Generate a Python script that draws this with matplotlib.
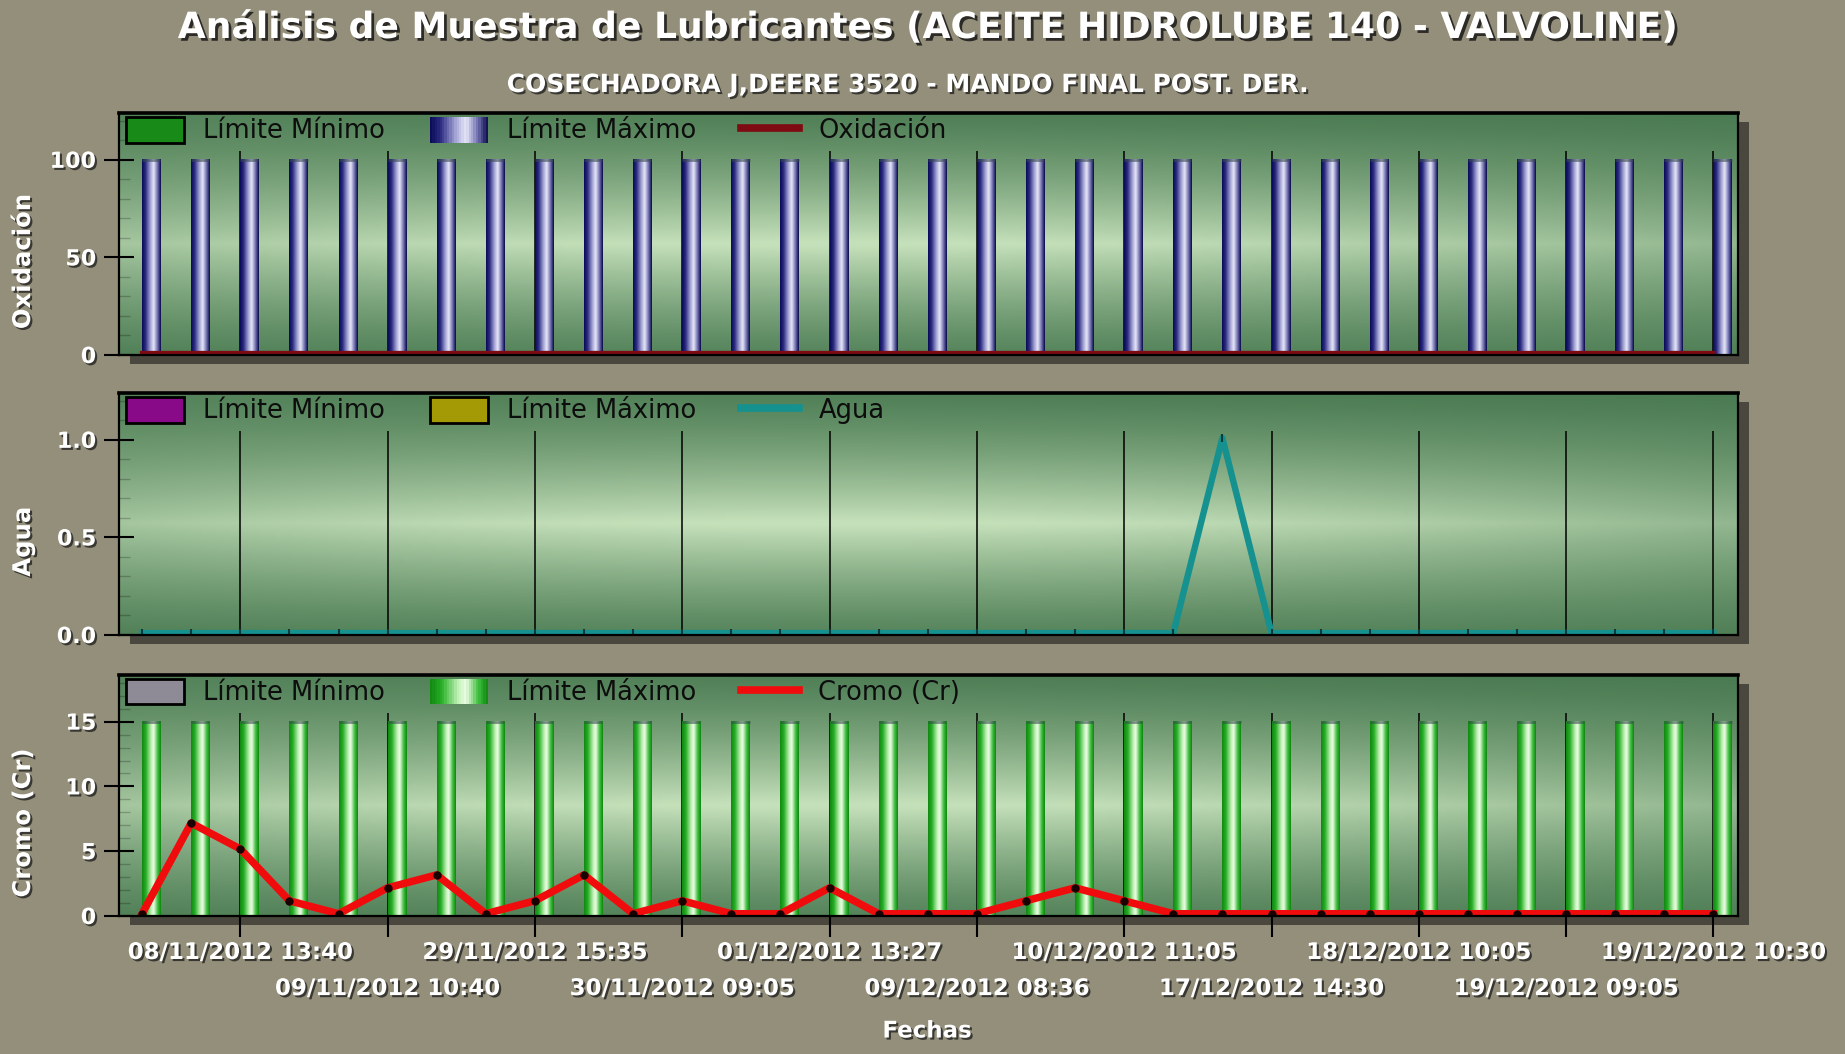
import numpy as np
import matplotlib
matplotlib.use("Agg")
import matplotlib.pyplot as plt
from matplotlib.patches import Rectangle
from matplotlib.colors import LinearSegmentedColormap
from matplotlib.legend_handler import HandlerBase
from matplotlib.lines import Line2D
from matplotlib.ticker import MultipleLocator, FormatStrFormatter, FixedLocator
from matplotlib.transforms import ScaledTranslation
import matplotlib.patheffects as pe

# ---------------- data ----------------
muestras = list(range(33))
etiquetas_fechas = ["08/11/2012 13:40", "09/11/2012 10:40", "29/11/2012 15:35",
                    "30/11/2012 09:05", "01/12/2012 13:27", "09/12/2012 08:36",
                    "10/12/2012 11:05", "17/12/2012 14:30", "18/12/2012 10:05",
                    "19/12/2012 09:05", "19/12/2012 10:30"]
posiciones_fechas = [2, 5, 8, 11, 14, 17, 20, 23, 26, 29, 32]

oxidacion = [0, 0, 0, 0, 0, 0, 0, 0, 0, 0, 0, 0, 0, 0, 0, 0, 0,
             0, 0, 0, 0, 0, 0, 0, 0, 0, 0, 0, 0, 0, 0, 0, 0]
oxid_min = [0, 0, 0, 0, 0, 0, 0, 0, 0, 0, 0, 0, 0, 0, 0, 0, 0,
            0, 0, 0, 0, 0, 0, 0, 0, 0, 0, 0, 0, 0, 0, 0, 0]
oxid_max = [100, 100, 100, 100, 100, 100, 100, 100, 100, 100, 100, 100, 100, 100, 100, 100, 100,
            100, 100, 100, 100, 100, 100, 100, 100, 100, 100, 100, 100, 100, 100, 100, 100]

agua = [0, 0, 0, 0, 0, 0, 0, 0, 0, 0, 0, 0, 0, 0, 0, 0, 0,
        0, 0, 0, 0, 0, 1.0, 0, 0, 0, 0, 0, 0, 0, 0, 0, 0]
agua_min = [0, 0, 0, 0, 0, 0, 0, 0, 0, 0, 0, 0, 0, 0, 0, 0, 0,
            0, 0, 0, 0, 0, 0, 0, 0, 0, 0, 0, 0, 0, 0, 0, 0]
agua_max = [0, 0, 0, 0, 0, 0, 0, 0, 0, 0, 0, 0, 0, 0, 0, 0, 0,
            0, 0, 0, 0, 0, 0, 0, 0, 0, 0, 0, 0, 0, 0, 0, 0]

cromo = [0, 7, 5, 1, 0, 2, 3, 0, 1, 3, 0, 1, 0, 0, 2, 0, 0,
         0, 1, 2, 1, 0, 0, 0, 0, 0, 0, 0, 0, 0, 0, 0, 0]
cromo_min = [0, 0, 0, 0, 0, 0, 0, 0, 0, 0, 0, 0, 0, 0, 0, 0, 0,
             0, 0, 0, 0, 0, 0, 0, 0, 0, 0, 0, 0, 0, 0, 0, 0]
cromo_max = [15, 15, 15, 15, 15, 15, 15, 15, 15, 15, 15, 15, 15, 15, 15, 15, 15,
             15, 15, 15, 15, 15, 15, 15, 15, 15, 15, 15, 15, 15, 15, 15, 15]

titulo = "Análisis de Muestra de Lubricantes (ACEITE HIDROLUBE 140 - VALVOLINE)"
subtitulo = "COSECHADORA J,DEERE 3520 - MANDO FINAL POST. DER."

# ---------------- style ----------------
plt.rcParams['font.family'] = ['DejaVu Sans']
W, H = 1845, 1054
fig = plt.figure(figsize=(W / 100, H / 100), dpi=100)
fig.patch.set_facecolor('#938f7a')

shadow_fx = [pe.SimplePatchShadow(offset=(1.5, -1.5), shadow_rgbFace='#1a1a1a', alpha=0.75), pe.Normal()]

navy_cmap = LinearSegmentedColormap.from_list('navy', [
    (0.0, '#0a0a58'), (0.18, '#2a2a80'), (0.45, '#a8a8d8'), (0.62, '#e6e6f8'),
    (0.82, '#7474b2'), (1.0, '#08084c')])
green_cmap = LinearSegmentedColormap.from_list('greenbar', [
    (0.0, '#118811'), (0.2, '#25ae25'), (0.48, '#bff0b4'), (0.62, '#ecfce4'),
    (0.84, '#3dbd3d'), (1.0, '#0e860e')])

BAR_W = 0.37


class GradHandler(HandlerBase):
    def __init__(self, cmap, n=24):
        super().__init__()
        self.cmap = cmap
        self.n = n

    def create_artists(self, legend, orig_handle, xdescent, ydescent, width, height, fontsize, trans):
        arts = []
        for i in range(self.n):
            r = Rectangle((-xdescent + i * width / self.n, -ydescent), width / self.n * 1.05, height,
                          facecolor=self.cmap((i + 0.5) / self.n), edgecolor='none', transform=trans)
            arts.append(r)
        return arts


def panel_background(ax):
    ny, nx = 240, 400
    yy = np.linspace(0, 1, ny)[:, None]
    xx = np.linspace(0, 1, nx)[None, :]
    v = np.clip(1 - np.abs(yy - 0.46) / 0.56, 0, 1) ** 1.4
    h = 0.62 + 0.38 * np.cos((xx - 0.45) * np.pi * 0.95)
    t = np.clip(v * h + 0.08 * (1 - xx) * yy, 0, 1)
    dark = np.array([0.29, 0.48, 0.32])
    light = np.array([0.77, 0.88, 0.73])
    img = dark + (light - dark) * t[..., None]
    ax.imshow(img, extent=[0, 1, 0, 1], transform=ax.transAxes, aspect='auto',
              origin='lower', zorder=0, interpolation='bilinear')


def add_shadow(rect):
    l, b, w, h = rect
    dx, dy = 11 / W, 9 / H
    fig.add_artist(Rectangle((l + dx, b - dy), w, h, transform=fig.transFigure,
                             facecolor='#4a483e', edgecolor='none', zorder=-5))


def make_panel(rect, serie, lmin, lmax, col_min, max_cmap, max_solid, line_color, line_lw,
               ylabel, nombre, ytick_step, minor_step, fmt, marker=None, mcolor=None, msize=0):
    add_shadow(rect)
    ax = fig.add_axes(rect)
    ax.set_facecolor('none')
    panel_background(ax)
    x = np.array(muestras)
    ymax_data = max(max(serie), max(lmax))
    top = 1.24 * ymax_data

    # vertical guide lines at the labelled samples
    ax.vlines(posiciones_fechas, 0, 1.045 * ymax_data, color='black', lw=1.1, zorder=1.5)

    ax.bar(x - BAR_W, lmin, width=BAR_W, align='edge', color=col_min, zorder=2)
    bmax = ax.bar(x, lmax, width=BAR_W, align='edge', color=max_solid if max_solid else 'none', zorder=2)
    if max_cmap is not None:
        grad = np.linspace(0, 1, 64).reshape(1, -1)
        for b in bmax:
            hgt = b.get_height()
            if hgt <= 0:
                continue
            x0, w = b.get_x(), b.get_width()
            ax.imshow(grad, cmap=max_cmap, extent=[x0, x0 + w, 0, hgt], aspect='auto',
                      zorder=2.1, interpolation='bilinear')
            ax.plot([x0, x0 + w], [hgt, hgt], color='#3a4a50', lw=2.0, alpha=0.6, zorder=2.2,
                    solid_capstyle='butt')

    # series line sits mostly above the zero line (small upward shift)
    lift = ax.transData + ScaledTranslation(0, line_lw * 0.3 / 72, fig.dpi_scale_trans)
    if marker:
        ax.plot(x, serie, color=line_color, lw=line_lw, zorder=3, marker=marker, transform=lift,
                markersize=msize, mfc=mcolor, mec=mcolor, mew=1.5, solid_joinstyle='round')
    else:
        ax.plot(x, serie, color=line_color, lw=line_lw, zorder=3, transform=lift)

    ax.set_xlim(-0.47, 32.5)
    ax.set_ylim(0, top)

    for s in ax.spines.values():
        s.set_color('black')
        s.set_linewidth(1.6)
        s.set_zorder(4)
    ax.spines['top'].set_linewidth(2.6)

    ax.yaxis.set_major_locator(MultipleLocator(ytick_step))
    ax.yaxis.set_minor_locator(MultipleLocator(minor_step))
    ax.yaxis.set_major_formatter(FormatStrFormatter(fmt))
    ax.tick_params(axis='y', which='major', direction='inout', length=21.6, width=1.5,
                   color='black', labelcolor='white', labelsize=16, pad=5.5)
    ax.tick_params(axis='y', which='minor', direction='in', length=8, width=1.0,
                   color=(0, 0, 0, 0.22))
    for t in ax.get_yticklabels():
        t.set_fontweight('bold')
        t.set_path_effects(shadow_fx)

    ax.set_ylabel(ylabel, color='white', fontsize=17.5, fontweight='bold')
    ax.yaxis.label.set_va('center')
    ax.yaxis.set_label_coords(-0.0593, 0.385)
    ax.yaxis.label.set_path_effects(shadow_fx)

    # legend
    h_min = Rectangle((0, 0), 1, 1, facecolor=col_min, edgecolor='black', lw=2)
    if max_cmap is not None:
        h_max = Rectangle((0, 0), 1, 1)
        hmap = {h_max: GradHandler(max_cmap)}
    else:
        h_max = Rectangle((0, 0), 1, 1, facecolor=max_solid, edgecolor='black', lw=2)
        hmap = {}
    h_line = Line2D([0], [0], color=line_color, lw=5.5)
    leg = ax.legend([h_min, h_max, h_line], ['Límite Mínimo', 'Límite Máximo', nombre],
                    handler_map=hmap, loc='upper left', bbox_to_anchor=(7 / 1619, 1 - 4 / 242),
                    ncol=3, frameon=False, borderpad=0, borderaxespad=0, fontsize=18.5,
                    handlelength=2.26, handleheight=1.15, handletextpad=0.74,
                    columnspacing=1.75, labelcolor='#0d0d0d')
    leg.set_zorder(5)
    return ax


Lx = 119 / W
Wx = (1738 - 119) / W

ax1 = make_panel((Lx, (H - 355) / H, Wx, 242 / H), oxidacion, oxid_min, oxid_max,
                 '#178a17', navy_cmap, None, '#7e0a12', 3.8, 'Oxidación', 'Oxidación',
                 50, 10, '%d')
ax2 = make_panel((Lx, (H - 635) / H, Wx, 242 / H), agua, agua_min, agua_max,
                 '#880a88', None, '#a39a05', '#15918f', 4.6, 'Agua', 'Agua',
                 0.5, 0.1, '%.1f', marker='|', mcolor='#0b3a3a', msize=6)
ax3 = make_panel((Lx, (H - 916) / H, Wx, 241 / H), cromo, cromo_min, cromo_max,
                 '#8f8b96', green_cmap, None, '#f00c0c', 5.4, 'Cromo (Cr)', 'Cromo (Cr)',
                 5, 1, '%d', marker='o', mcolor='#1a0000', msize=4.5)

for ax in (ax1, ax2):
    ax.tick_params(axis='x', which='both', length=0, labelbottom=False)

# staggered date labels: first row on major ticks, second row on minor ticks
fila1_pos = posiciones_fechas[0::2]
fila1_lbl = etiquetas_fechas[0::2]
fila2_pos = posiciones_fechas[1::2]
fila2_lbl = etiquetas_fechas[1::2]
ax3.xaxis.set_major_locator(FixedLocator(fila1_pos))
ax3.set_xticklabels(fila1_lbl)
ax3.xaxis.set_minor_locator(FixedLocator(fila2_pos))
ax3.set_xticklabels(fila2_lbl, minor=True)
ax3.tick_params(axis='x', which='major', direction='out', length=15, width=1.5, color='black',
                labelcolor='white', labelsize=16.5, pad=3)
ax3.tick_params(axis='x', which='minor', direction='out', length=15, width=1.5, color='black',
                labelcolor='white', labelsize=16.5, pad=29)
for t in ax3.get_xticklabels(which='both'):
    t.set_fontweight('bold')
    t.set_path_effects(shadow_fx)

fig.text(927 / W, 1 - 1031 / H, 'Fechas', ha='center', va='center', color='white',
         fontsize=16.5, fontweight='bold', path_effects=shadow_fx)

fig.text(929 / W, 1 - 38 / H, titulo, ha='center', va='baseline', color='white',
         fontsize=26, fontweight='bold',
         path_effects=[pe.SimplePatchShadow(offset=(2, -2), shadow_rgbFace='#111111', alpha=0.8), pe.Normal()])
fig.text(907 / W, 1 - 92 / H, subtitulo, ha='center', va='baseline', color='white',
         fontsize=18, fontweight='bold', path_effects=shadow_fx)

fig.savefig('out.png', dpi=100, facecolor=fig.get_facecolor())
